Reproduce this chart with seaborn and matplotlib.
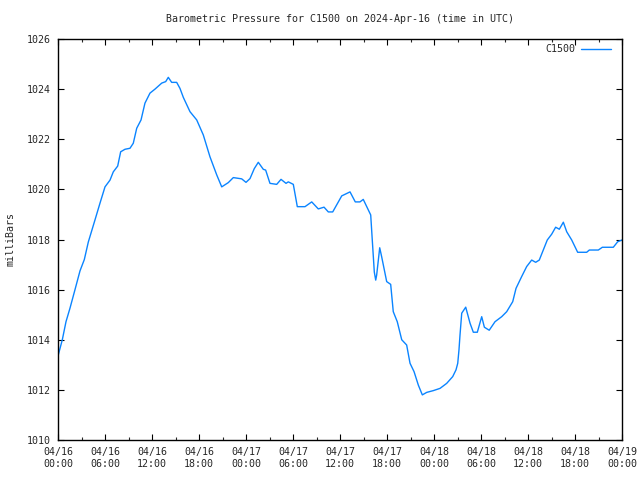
import matplotlib
matplotlib.use("Agg")
import matplotlib.pyplot as plt
import matplotlib.dates as mdates
import seaborn as sns
import pandas as pd

title = "Barometric Pressure for C1500 on 2024-Apr-16 (time in UTC)"
series_name = "C1500"
start_time = "2024-04-16 00:00"

hours = [0.0, 0.55, 1.02, 1.53, 2.17, 2.81, 3.36, 3.87, 4.72, 5.36, 6.0, 6.64,
         7.06, 7.62, 8.0, 8.55, 9.19, 9.61, 10.05, 10.6, 11.1, 11.74, 12.38,
         13.24, 13.75, 14.08, 14.51, 15.15, 15.57, 16.0, 16.85, 17.71, 18.55,
         19.4, 20.26, 20.9, 21.74, 22.38, 23.45, 24.0, 24.51, 25.06, 25.57,
         26.21, 26.51, 27.06, 27.92, 28.47, 29.11, 29.4, 30.04, 30.55, 31.53,
         32.39, 33.23, 33.96, 34.51, 35.07, 36.22, 37.28, 37.95, 38.55, 38.97,
         39.92, 40.12, 40.38, 40.56, 40.68, 41.07, 41.32, 41.96, 42.47, 42.8,
         43.31, 43.88, 44.51, 44.94, 45.45, 46.0, 46.51, 47.07, 47.91, 48.77,
         49.62, 50.39, 50.81, 51.03, 51.19, 51.32, 51.54, 52.05, 52.6, 53.02,
         53.53, 54.09, 54.43, 55.05, 55.79, 56.64, 57.28, 58.05, 58.47, 59.19,
         59.83, 60.47, 60.98, 61.44, 61.95, 62.46, 63.02, 63.53, 64.0, 64.51,
         64.94, 65.58, 66.34, 67.49, 67.83, 68.98, 69.49, 70.89, 71.45, 72.0]
pressure = [1013.35, 1014.0, 1014.72, 1015.26, 1016.0, 1016.75, 1017.2, 1017.9,
            1018.78, 1019.45, 1020.1, 1020.37, 1020.7, 1020.93, 1021.5, 1021.6,
            1021.64, 1021.84, 1022.44, 1022.77, 1023.44, 1023.84, 1024.0,
            1024.24, 1024.3, 1024.47, 1024.27, 1024.27, 1024.03, 1023.67,
            1023.1, 1022.77, 1022.17, 1021.3, 1020.58, 1020.1, 1020.27,
            1020.47, 1020.42, 1020.28, 1020.43, 1020.83, 1021.08, 1020.8,
            1020.77, 1020.24, 1020.2, 1020.4, 1020.24, 1020.3, 1020.2, 1019.31,
            1019.31, 1019.5, 1019.22, 1019.29, 1019.1, 1019.1, 1019.74, 1019.9,
            1019.5, 1019.5, 1019.6, 1018.98, 1017.98, 1016.7, 1016.38, 1016.58,
            1017.67, 1017.31, 1016.32, 1016.21, 1015.12, 1014.72, 1014.0,
            1013.79, 1013.06, 1012.73, 1012.19, 1011.8, 1011.9, 1011.97,
            1012.06, 1012.26, 1012.53, 1012.8, 1013.06, 1013.6, 1014.19,
            1015.06, 1015.3, 1014.66, 1014.3, 1014.3, 1014.92, 1014.5, 1014.38,
            1014.72, 1014.92, 1015.12, 1015.52, 1016.05, 1016.52, 1016.92,
            1017.18, 1017.09, 1017.18, 1017.58, 1017.98, 1018.21, 1018.49,
            1018.41, 1018.69, 1018.31, 1017.98, 1017.49, 1017.49, 1017.58,
            1017.58, 1017.69, 1017.69, 1017.91, 1017.98]

y_min, y_max, y_step = 1010, 1026, 2
x_end = "2024-04-19 00:00"

sns.set_style("ticks")
plt.rcParams['font.family'] = ['DejaVu Sans Mono']
plt.rcParams['font.size'] = 7.2

t0 = pd.Timestamp(start_time)
df = pd.DataFrame({"time": [t0 + pd.Timedelta(hours=h) for h in hours],
                   "pressure": pressure,
                   "station": series_name})

fig = plt.figure(figsize=(6.4, 4.8), dpi=100)
ax = fig.add_axes([58/640, 40/480, 564/640, 401/480])
sns.lineplot(data=df, x="time", y="pressure", hue="station",
             palette=["#0a84ff"], linewidth=1.0, ax=ax)

ax.set_xlim(t0, pd.Timestamp(x_end))
ax.set_ylim(y_min, y_max)
ax.set_yticks(list(range(y_min, y_max + 1, y_step)))
ax.xaxis.set_major_locator(mdates.HourLocator(byhour=[0, 6, 12, 18]))
ax.xaxis.set_minor_locator(mdates.HourLocator(byhour=[3, 9, 15, 21]))
ax.xaxis.set_major_formatter(mdates.DateFormatter("%m/%d\n%H:%M"))
ax.tick_params(which="major", direction="in", length=4, width=0.8,
               top=True, right=True, labelsize=7.2, color="black", pad=5)
ax.tick_params(which="minor", direction="in", length=2, width=0.8,
               top=True, right=False)
for s in ax.spines.values():
    s.set_linewidth(1.0)
    s.set_color("black")

ax.set_xlabel("")
ax.set_ylabel("milliBars", fontsize=7.2)
ax.yaxis.set_label_coords(-0.076, 0.5)

fig.text(340/640, 1 - 19/480, title, ha="center", va="center", fontsize=7.2)

leg = ax.legend(loc="center right", bbox_to_anchor=(611/640, 1 - 49/480),
                bbox_transform=fig.transFigure, frameon=False, borderaxespad=0,
                borderpad=0, markerfirst=False, handlelength=3.0,
                handletextpad=0.6, fontsize=7.2)

fig.savefig("out.png", dpi=100)
